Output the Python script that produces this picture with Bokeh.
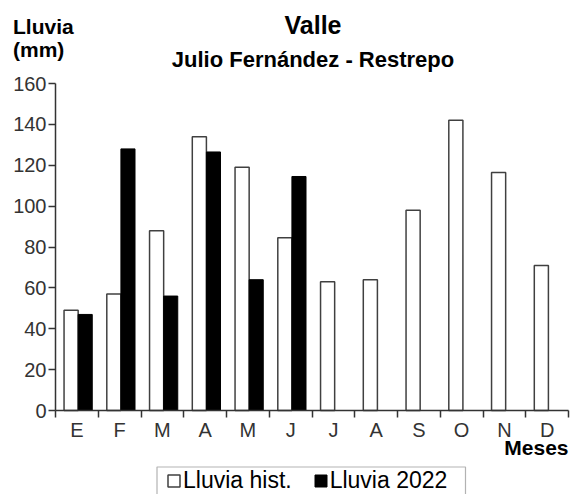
from bokeh.plotting import figure
from bokeh.models import (FixedTicker, Label, Legend, LegendItem, Range1d,
                          ColumnDataSource, BoxAnnotation)
from bokeh.embed import file_html
from bokeh.resources import INLINE

# ---- data ----
months = ["E", "F", "M", "A", "M", "J", "J", "A", "S", "O", "N", "D"]
lluvia_hist = [49, 57, 88, 134, 119, 84.5, 63, 64, 98, 142, 116.5, 71]
lluvia_2022 = [47, 128, 56, 126.5, 64, 114.5]
y_ticks = [0, 20, 40, 60, 80, 100, 120, 140, 160]
Y_MAX = 160

FONT = "Liberation Sans"
W, H = 570, 494

# layout: plot area from x=55..568 px, y=83..410 px (top-left origin)
PX_L, PX_R, PX_T, PX_B = 55, 568, 83, 410
n = len(months)
xs = (PX_R - PX_L) / n
ys = (PX_B - PX_T) / Y_MAX
x_rng = Range1d(-PX_L / xs, n + (W - PX_R) / xs)
y_rng = Range1d(-(H - PX_B) / ys, Y_MAX + PX_T / ys)

p = figure(width=W, height=H, output_backend="svg", toolbar_location=None, title=None,
           x_range=x_rng, y_range=y_rng, min_border=0)
p.outline_line_color = None
p.grid.visible = False
p.background_fill_color = "white"
p.border_fill_color = "white"

src_h = ColumnDataSource(dict(x=[i + 0.365 for i in range(n)], top=lluvia_hist))
src_n = ColumnDataSource(dict(x=[i + 0.695 for i in range(len(lluvia_2022))], top=lluvia_2022))

r1 = p.vbar(x="x", top="top", bottom=0, width=0.33, source=src_h,
            fill_color="white", line_color="#404040", line_width=1.5)
r2 = p.vbar(x="x", top="top", bottom=0, width=0.33, source=src_n,
            fill_color="black", line_color="black", line_width=1)

# x axis (drawn at y = 0 inside the canvas)
xa = p.xaxis[0]
xa.fixed_location = 0
xa.bounds = (0, n)
xa.ticker = FixedTicker(ticks=[i + 0.5 for i in range(n)], minor_ticks=list(range(n + 1)))
xa.major_label_overrides = {i + 0.5: m for i, m in enumerate(months)}
xa.major_tick_line_color = None
xa.major_tick_out = 7
xa.major_tick_in = 0
xa.minor_tick_out = 7
xa.minor_tick_in = 0
xa.minor_tick_line_color = "#333333"
xa.minor_tick_line_width = 1.5
xa.major_label_standoff = 1
xa.major_label_text_font = FONT
xa.major_label_text_font_size = "20px"
xa.major_label_text_color = "#333333"
xa.axis_line_color = "#333333"
xa.axis_line_width = 1.5

# y axis (drawn at x = 0)
ya = p.yaxis[0]
ya.fixed_location = 0
ya.bounds = (0, Y_MAX)
ya.ticker = FixedTicker(ticks=y_ticks)
ya.major_tick_out = 7
ya.major_tick_in = 0
ya.minor_tick_line_color = None
ya.major_tick_line_color = "#333333"
ya.major_tick_line_width = 1.5
ya.major_label_standoff = 2
ya.major_label_text_font = FONT
ya.major_label_text_font_size = "20px"
ya.major_label_text_color = "#333333"
ya.axis_line_color = "#333333"
ya.axis_line_width = 1.5

def lab(text, x, y_top, size, align="left"):
    # x, y_top: pixel position from canvas top-left
    p.add_layout(Label(x=x, y=H - y_top, x_units="screen", y_units="screen", text=text,
                       text_font=FONT, text_font_size=size, text_align=align,
                       text_baseline="alphabetic", text_color="black",
                       text_font_style="bold"))

lab("Valle", 312.5, 24.5, "25px", "center")
lab("Julio Fernández - Restrepo", 312.5, 59, "22px", "center")
lab("Lluvia", 12.5, 26, "21px")
lab("(mm)", 12.5, 48.5, "21px")
lab("Meses", 568, 447, "21px", "right")

# legend frame
p.add_layout(BoxAnnotation(left=156.5, right=465, top=H - 466.5, bottom=-20,
                           left_units="screen", right_units="screen",
                           top_units="screen", bottom_units="screen",
                           fill_color="white", fill_alpha=1,
                           line_color="black", line_width=1.2))

legend = Legend(items=[LegendItem(label="Lluvia hist.", renderers=[r1]),
                       LegendItem(label="Lluvia 2022", renderers=[r2])],
                orientation="horizontal", location=(166, 0),
                glyph_width=15, glyph_height=15, label_standoff=2, spacing=21,
                padding=4, margin=0, border_line_color=None,
                label_text_font=FONT, label_text_font_size="23px",
                label_text_color="black", background_fill_alpha=0)
p.add_layout(legend, "center")

open("out.html", "w").write(file_html(p, INLINE))
